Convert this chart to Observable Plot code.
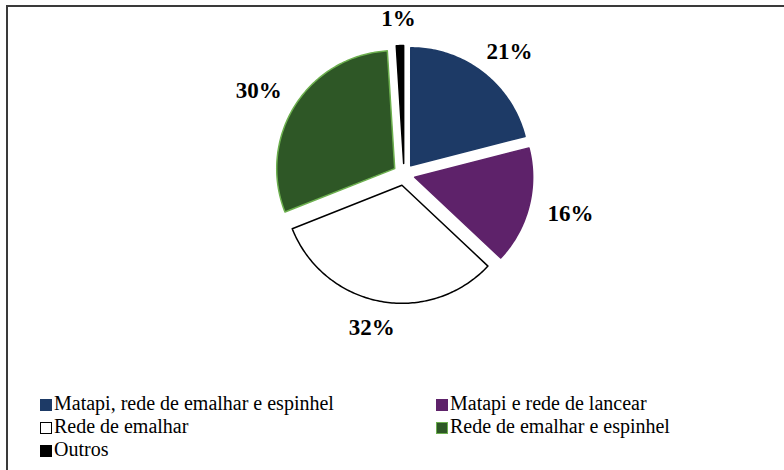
<!DOCTYPE html>
<html>
<head>
<meta charset="utf-8">
<script src="https://cdn.jsdelivr.net/npm/d3@7"></script>
<script src="https://cdn.jsdelivr.net/npm/@observablehq/plot@0.6"></script>
<style>
  body { margin: 0; padding: 0; background: #fff; font-family: 'Liberation Serif'; }
  #preload { position: absolute; left: 0; top: 0; font-family: 'Liberation Serif'; font-size: 20px; color: transparent; }
  #frame { position: absolute; left: 6px; top: 5px; width: 776px; height: 463px; border-left: 2px solid #3a3a3a; border-top: 2px solid #3a3a3a; }
  #chart { position: absolute; left: 0; top: 0; }
  .item { position: absolute; font-family: 'Liberation Serif'; font-size: 20px; color: #000; white-space: nowrap; line-height: 20px; height: 20px; }
  .sw { width: 12px; height: 12px; box-sizing: border-box; margin-right: 2px; display: inline-block; vertical-align: -1px; }
</style>
</head>
<body>
<div id="preload">Matapi <b>21%</b></div>
<div id="frame"></div>
<div id="chart"></div>
<div id="legend"></div>
<script>
// ---- data ----
const categories = [
  "Matapi, rede de emalhar e espinhel",
  "Matapi e rede de lancear",
  "Rede de emalhar",
  "Rede de emalhar e espinhel",
  "Outros"
];
const values = [21, 16, 32, 30, 1];
const labels = ["21%", "16%", "32%", "30%", "1%"];
const fills = ["#1d3a66", "#5e226a", "#ffffff", "#2e5726", "#000000"];
const strokes = ["#1d3a66", "#5e226a", "#000000", "#6db04f", "#000000"];

// ---- layout ----
const W = 784, H = 385;
const R = 118;              // radius in px
const cx = 403.5, cy = 174; // pie centre in px
const explode = 11 / R;     // explosion offset (in radius units)

const pie = d3.pie().sort(null).value(d => d.value).startAngle(0).endAngle(2 * Math.PI);
const rows = categories.map((c, i) => ({category: c, value: values[i], label: labels[i], fill: fills[i], stroke: strokes[i]}));
const arcs = pie(rows);

const pts = [];
const labelPts = [];
arcs.forEach(a => {
  const mid = (a.startAngle + a.endAngle) / 2;
  const ox = explode * Math.sin(mid), oy = -explode * Math.cos(mid);
  pts.push({category: a.data.category, x: ox, y: oy});
  const n = Math.max(4, Math.ceil((a.endAngle - a.startAngle) / (Math.PI / 180)));
  for (let k = 0; k <= n; k++) {
    const t = a.startAngle + (a.endAngle - a.startAngle) * k / n;
    pts.push({category: a.data.category, x: ox + Math.sin(t), y: oy - Math.cos(t)});
  }
  const dx = Math.sin(mid), dy = -Math.cos(mid);
  const rg = 145 / R;
  labelPts.push({label: a.data.label, x: dx * rg + dx * 27 / R, y: dy * rg + dy * 11 / R});
});

const plot = Plot.plot({
  width: W,
  height: H,
  margin: 0,
  style: {background: "transparent", overflow: "visible"},
  x: {domain: [-cx / R, (W - cx) / R], range: [0, W], axis: null},
  y: {domain: [-cy / R, (H - cy) / R], range: [0, H], axis: null},
  color: {type: "ordinal", domain: categories, range: fills},
  marks: [
    Plot.line(pts, {
      x: "x", y: "y", z: "category",
      fill: "category",
      stroke: d => strokes[categories.indexOf(d.category)],
      strokeWidth: 1.5,
      curve: "linear-closed",
      strokeLinejoin: "round"
    }),
    Plot.text(labelPts, {
      x: "x", y: "y", text: "label",
      fontSize: 23, fontWeight: "bold",
      fontFamily: "Liberation Serif",
      fill: "#000"
    })
  ]
});
document.getElementById("chart").appendChild(plot);

// ---- legend ----
const legendPos = [
  {left: 40, top: 403}, {left: 436, top: 403},
  {left: 40, top: 426}, {left: 436, top: 426},
  {left: 40, top: 449}
];
const legend = document.getElementById("legend");
rows.forEach((r, i) => {
  const it = document.createElement("div");
  it.className = "item";
  it.style.left = legendPos[i].left + "px";
  it.style.top = (legendPos[i].top - 10) + "px";
  const sw = document.createElement("span");
  sw.className = "sw";
  sw.style.background = r.fill;
  if (r.fill === "#ffffff") sw.style.border = "1.5px solid #000";
  if (r.category === "Rede de emalhar e espinhel") sw.style.border = "1.5px solid #6db04f";
  it.appendChild(sw);
  it.appendChild(document.createTextNode(r.category));
  legend.appendChild(it);
});
</script>
</body>
</html>
